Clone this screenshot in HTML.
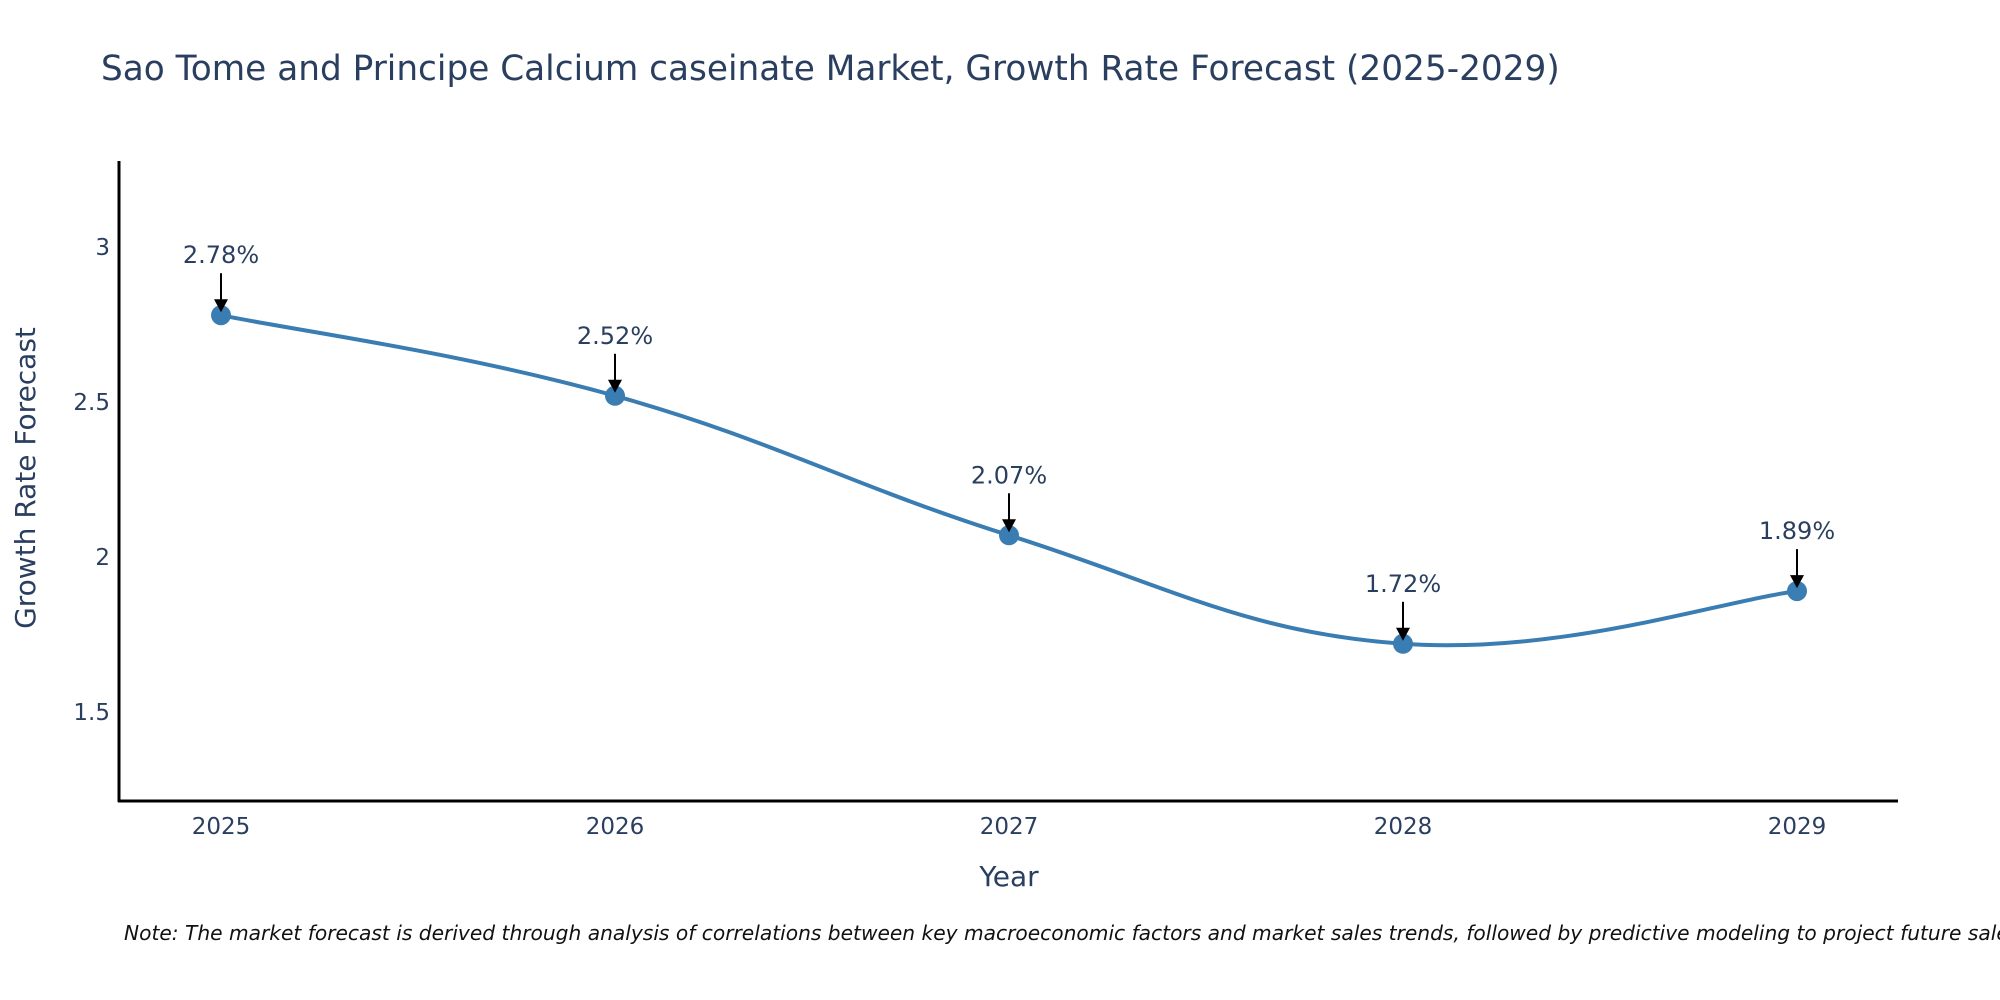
<!DOCTYPE html>
<html><head><meta charset="utf-8"><style>
body{margin:0;background:#fff;}
svg{display:block;font-family:"DejaVu Sans","Liberation Sans",sans-serif;}
</style></head><body>
<svg id="chart" width="2000" height="1000">
<text x="101" y="80" font-size="34.3" fill="#2a3f5f">Sao Tome and Principe Calcium caseinate Market, Growth Rate Forecast (2025-2029)</text>
<g id="yticks"></g>
<g id="xticks"></g>
<line x1="119" y1="161" x2="119" y2="802" stroke="#000" stroke-width="3"/>
<line x1="118" y1="801" x2="1898" y2="801" stroke="#000" stroke-width="3"/>
<text x="0" y="0" transform="translate(35,478) rotate(-90)" text-anchor="middle" font-size="28" fill="#2a3f5f">Growth Rate Forecast</text>
<text x="1009" y="886" text-anchor="middle" font-size="28" fill="#2a3f5f">Year</text>
<g id="series"></g>
<text x="124" y="940" font-size="20.2" font-style="italic" fill="#111">Note: The market forecast is derived through analysis of correlations between key macroeconomic factors and market sales trends, followed by predictive modeling to project future sales.</text>
</svg>
<script>
const years = [2025, 2026, 2027, 2028, 2029];
const values = [2.78, 2.52, 2.07, 1.72, 1.89];
const labels = ["2.78%", "2.52%", "2.07%", "1.72%", "1.89%"];
const yTicks = [1.5, 2, 2.5, 3];
const yTickLabels = ["1.5", "2", "2.5", "3"];

const NS = "http://www.w3.org/2000/svg";
const xs = y => 221 + (y - 2025) * 394;
const ys = v => 712 - (v - 1.5) * 310;
function mk(tag, attrs, parent) {
  const e = document.createElementNS(NS, tag);
  for (const k in attrs) e.setAttribute(k, attrs[k]);
  parent.appendChild(e);
  return e;
}
const yt = document.getElementById('yticks');
yTicks.forEach((t, i) => {
  const e = mk('text', {x: 110, y: ys(t) + 8, 'text-anchor': 'end', 'font-size': 23, fill: '#2a3f5f'}, yt);
  
  
  e.textContent = yTickLabels[i];
});
const xt = document.getElementById('xticks');
years.forEach(y => {
  const e = mk('text', {x: xs(y), y: 834, 'text-anchor': 'middle', 'font-size': 23, fill: '#2a3f5f'}, xt);
  
  
  e.textContent = String(y);
});
const g = document.getElementById('series');
const pts = years.map((y, i) => [xs(y), ys(values[i])]);
let d = `M${pts[0][0]},${pts[0][1]}`;
const s = 0.2;
for (let i = 0; i < pts.length - 1; i++) {
  const p0 = pts[Math.max(0, i - 1)], p1 = pts[i], p2 = pts[i + 1], p3 = pts[Math.min(pts.length - 1, i + 2)];
  const c1 = [p1[0] + (p2[0] - p0[0]) * s, p1[1] + (p2[1] - p0[1]) * s];
  const c2 = [p2[0] - (p3[0] - p1[0]) * s, p2[1] - (p3[1] - p1[1]) * s];
  d += ` C${c1[0]},${c1[1]} ${c2[0]},${c2[1]} ${p2[0]},${p2[1]}`;
}
const line = mk('path', {d: d, fill: 'none', stroke: '#3a7db3', 'stroke-width': 4}, g);


pts.forEach((p, i) => {
  const c = mk('circle', {cx: p[0], cy: p[1], r: 10, fill: '#3a7db3'}, g);
  
  
  const a = mk('line', {x1: p[0], y1: p[1] - 42, x2: p[0], y2: p[1] - 14, stroke: '#000', 'stroke-width': 2}, g);
  
  
  const h = mk('polygon', {points: `${p[0]-7},${p[1]-16} ${p[0]+7},${p[1]-16} ${p[0]},${p[1]-3}`, fill: '#000'}, g);
  
  
  const t = mk('text', {x: p[0], y: p[1] - 52, 'text-anchor': 'middle', 'font-size': 24, fill: '#2a3f5f'}, g);
  
  
  t.textContent = labels[i];
});
</script>
</body></html>
